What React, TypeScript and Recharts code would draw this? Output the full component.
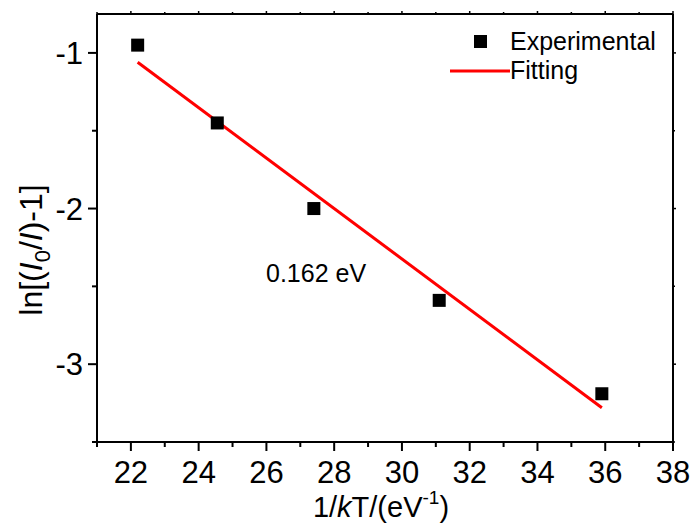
import { ComposedChart, Scatter, Line, XAxis, YAxis } from "recharts";

// measured points, 1/kT (eV^-1) vs ln[(I0/I)-1]
const invKT = [22.2, 24.55, 27.4, 31.1, 35.9];
const lnRatio = [-0.95, -1.45, -2.0, -2.59, -3.19];

// linear fit end points
const fitX = [22.2, 35.9];
const fitY = [-1.06, -3.28];

const xTicks = [21, 22, 23, 24, 25, 26, 27, 28, 29, 30, 31, 32, 33, 34, 35, 36, 37, 38];
const yTicks = [-3.5, -3, -2.5, -2, -1.5, -1];

const expData = invKT.map((x, i) => ({ x, y: lnRatio[i] }));
const fitData = fitX.map((x, i) => ({ x, y: fitY[i] }));

const FONT = "'Liberation Sans', Arial, sans-serif";

const BottomTick = ({ x, y, payload }: any) => {
  const major = payload.value % 2 === 0;
  return (
    <g>
      <line x1={x} x2={x} y1={y} y2={y + (major ? 9 : 5)} stroke="#000" strokeWidth={2} />
      {major && (
        <text x={x} y={y + 41} textAnchor="middle" fontSize={31} fontFamily={FONT} fill="#000">
          {payload.value}
        </text>
      )}
    </g>
  );
};

const LeftTick = ({ x, y, payload }: any) => {
  const major = Number.isInteger(payload.value);
  return (
    <g>
      <line x1={x - (major ? 9 : 5)} x2={x} y1={y} y2={y} stroke="#000" strokeWidth={2} />
      {major && (
        <text x={x - 14} y={y + 11} textAnchor="end" fontSize={31} fontFamily={FONT} fill="#000">
          {payload.value}
        </text>
      )}
    </g>
  );
};

const TopTick = ({ x, y, payload }: any) => (
  <line x1={x} x2={x} y1={y} y2={y - (payload.value % 2 === 0 ? 3 : 2)} stroke="#000" strokeWidth={1.5} />
);

const RightTick = ({ x, y, payload }: any) => (
  <line x1={x} x2={x + (Number.isInteger(payload.value) ? 3 : 2)} y1={y} y2={y} stroke="#000" strokeWidth={1.5} />
);

const YTitle = () => (
  <text transform="rotate(-90, 42, 250)" x={42} y={250} textAnchor="middle" fontSize={32} fontFamily={FONT} fill="#000">
    ln[(<tspan fontStyle="italic">I</tspan>
    <tspan fontSize={22} dy={8}>0</tspan>
    <tspan dy={-8}>/</tspan>
    <tspan fontStyle="italic">I</tspan>)-1]
  </text>
);

const XTitle = () => (
  <text x={381} y={517} textAnchor="middle" fontSize={29} fontFamily={FONT} fill="#000">
    1/<tspan fontStyle="italic">k</tspan>T/(eV
    <tspan fontSize={19} dy={-13}>-1</tspan>
    <tspan dy={13}>)</tspan>
  </text>
);

const LegendBox = () => (
  <g>
    <rect x={474} y={35} width={13} height={13} fill="#000" />
    <text x={510} y={50} fontSize={25} fontFamily={FONT} fill="#000">Experimental</text>
    <line x1={450} x2={510} y1={71} y2={71} stroke="#ff0000" strokeWidth={3} />
    <text x={510} y={79} fontSize={25} fontFamily={FONT} fill="#000">Fitting</text>
  </g>
);

export default function App() {
  return (
    <div style={{ position: "absolute", left: 0, top: 0, width: 691, height: 525, background: "#fff" }}>
      <ComposedChart width={691} height={525} margin={{ top: 0, right: 15, bottom: 0, left: 0 }}>
        <XAxis
          xAxisId="b"
          dataKey="x"
          type="number"
          domain={[21, 38]}
          ticks={xTicks}
          interval={0}
          allowDataOverflow
          height={83}
          axisLine={{ stroke: "#000", strokeWidth: 2 }}
          tickLine={false}
          tickSize={0}
          tickMargin={0}
          tick={<BottomTick />}
        />
        <XAxis
          xAxisId="t"
          orientation="top"
          dataKey="x"
          type="number"
          domain={[21, 38]}
          ticks={xTicks}
          interval={0}
          allowDataOverflow
          height={14}
          axisLine={{ stroke: "#000", strokeWidth: 2 }}
          tickLine={false}
          tickSize={0}
          tickMargin={0}
          tick={<TopTick />}
        />
        <YAxis
          yAxisId="l"
          dataKey="y"
          type="number"
          domain={[-3.5, -0.75]}
          ticks={yTicks}
          interval={0}
          allowDataOverflow
          width={97}
          axisLine={{ stroke: "#000", strokeWidth: 2 }}
          tickLine={false}
          tickSize={0}
          tickMargin={0}
          tick={<LeftTick />}
        />
        <YAxis
          yAxisId="r"
          orientation="right"
          dataKey="y"
          type="number"
          domain={[-3.5, -0.75]}
          ticks={yTicks}
          interval={0}
          allowDataOverflow
          width={3}
          axisLine={{ stroke: "#000", strokeWidth: 2 }}
          tickLine={false}
          tickSize={0}
          tickMargin={0}
          tick={<RightTick />}
        />
        <Line
          xAxisId="b"
          yAxisId="l"
          data={fitData}
          dataKey="y"
          stroke="#ff0000"
          strokeWidth={3}
          dot={false}
          isAnimationActive={false}
        />
        <Scatter
          xAxisId="b"
          yAxisId="l"
          data={expData}
          dataKey="y"
          isAnimationActive={false}
          shape={(p: any) => <rect x={p.cx - 6.5} y={p.cy - 6.5} width={13} height={13} fill="#000" />}
        />
        <text x={266} y={282} fontSize={25} fontFamily={FONT} fill="#000">0.162 eV</text>
        <LegendBox />
        <YTitle />
        <XTitle />
      </ComposedChart>
    </div>
  );
}
